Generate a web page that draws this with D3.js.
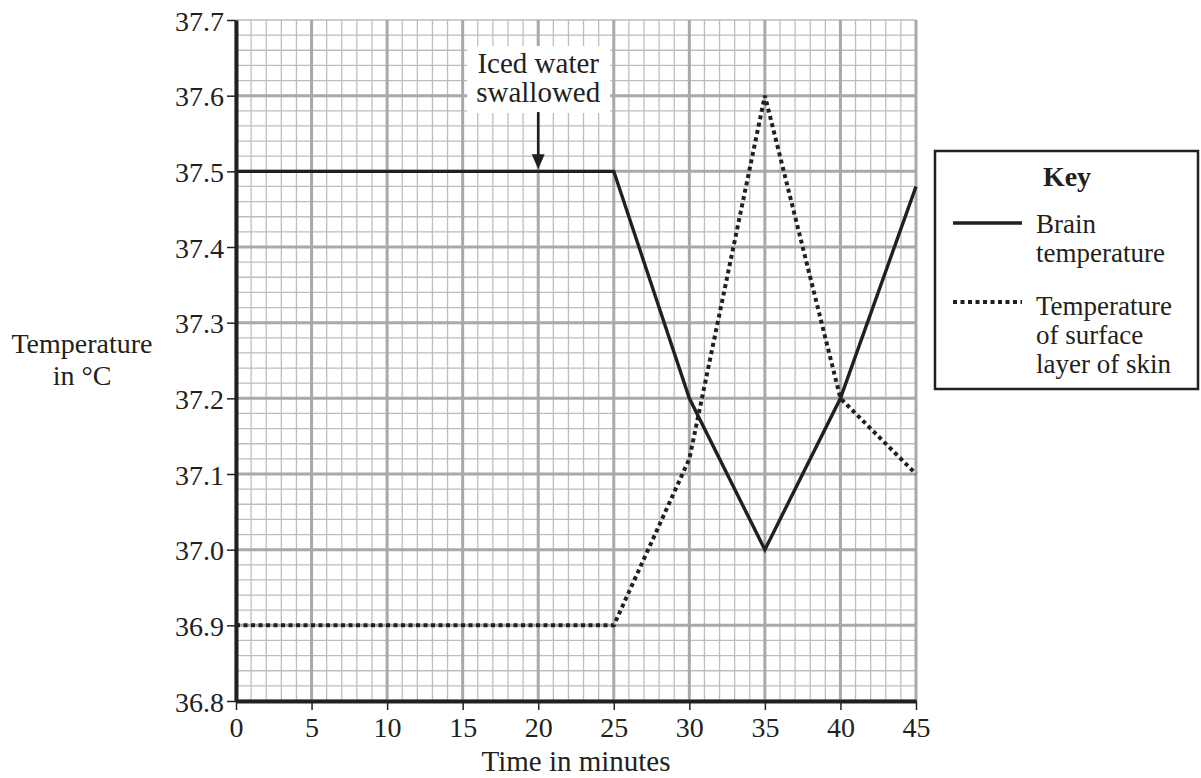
<!DOCTYPE html>
<html>
<head>
<meta charset="utf-8">
<script src="https://cdn.jsdelivr.net/npm/d3@7"></script>
<style>
  body { margin: 0; background: #fff; }
  svg text { font-family: "Liberation Serif", "Times New Roman", serif; fill: #231f20; }
</style>
</head>
<body>
<div id="chart"></div>
<script>
// data
var times = [0, 25, 30, 35, 40, 45]
var brainTemp = [37.5, 37.5, 37.2, 37.0, 37.2, 37.48]
var skinTemp = [36.9, 36.9, 37.12, 37.6, 37.2, 37.1]
var xTicks = [0, 5, 10, 15, 20, 25, 30, 35, 40, 45]
var yTicks = [36.8, 36.9, 37.0, 37.1, 37.2, 37.3, 37.4, 37.5, 37.6, 37.7]
var eventTime = 20, eventTemp = 37.5

;(function () {
    var width = 1201, height = 778
    var left = 236, right = 916, top = 20, bottom = 701

    var svg = d3.select('#chart').append('svg')
        .attr('width', width)
        .attr('height', height)

    var x = d3.scaleLinear().domain([0, 45]).range([left, right])
    var y = d3.scaleLinear().domain([36.8, 37.7]).range([bottom, top])

    var grid = svg.append('g')

    // small squares: 1 minute by 0.02 degrees
    var minorX = d3.range(0, 46)
    var minorY = d3.range(0, 46).map(function (i) { return 36.8 + i * 0.02 })

    grid.selectAll('.vminor').data(minorX).enter().append('line')
        .attr('x1', function (d) { return x(d) }).attr('x2', function (d) { return x(d) })
        .attr('y1', y(36.8)).attr('y2', y(37.7))
        .attr('stroke', '#bdbdbd').attr('stroke-width', 1.3)
    grid.selectAll('.hminor').data(minorY).enter().append('line')
        .attr('y1', function (d) { return y(d) }).attr('y2', function (d) { return y(d) })
        .attr('x1', x(0)).attr('x2', x(45))
        .attr('stroke', '#bdbdbd').attr('stroke-width', 1.3)

    grid.selectAll('.vmajor').data(xTicks).enter().append('line')
        .attr('x1', function (d) { return x(d) }).attr('x2', function (d) { return x(d) })
        .attr('y1', y(36.8)).attr('y2', y(37.7))
        .attr('stroke', '#a9a9a9').attr('stroke-width', 3)
    grid.selectAll('.hmajor').data(yTicks.slice(0, -1)).enter().append('line')
        .attr('y1', function (d) { return y(d) }).attr('y2', function (d) { return y(d) })
        .attr('x1', x(0)).attr('x2', x(45))
        .attr('stroke', '#a9a9a9').attr('stroke-width', 3)

    var line = d3.line()
        .x(function (d) { return x(d[0]) })
        .y(function (d) { return y(d[1]) })

    svg.append('path')
        .datum(d3.zip(times, skinTemp))
        .attr('d', line)
        .attr('fill', 'none')
        .attr('stroke', '#231f20')
        .attr('stroke-width', 4)
        .attr('stroke-dasharray', '4,3.5')

    svg.append('path')
        .datum(d3.zip(times, brainTemp))
        .attr('d', line)
        .attr('fill', 'none')
        .attr('stroke', '#231f20')
        .attr('stroke-width', 3.4)
        .attr('stroke-linejoin', 'miter')

    // axes
    var yAxis = svg.append('g')
        .attr('transform', 'translate(' + left + ',0)')
        .call(d3.axisLeft(y).tickValues(yTicks).tickFormat(d3.format('.1f')).tickSize(9).tickSizeOuter(0).tickPadding(3))
    var xAxis = svg.append('g')
        .attr('transform', 'translate(0,' + bottom + ')')
        .call(d3.axisBottom(x).tickValues(xTicks).tickSize(9).tickSizeOuter(0).tickPadding(5))

    ;[xAxis, yAxis].forEach(function (a) {
        a.select('.domain').attr('stroke', '#231f20').attr('stroke-width', 4)
        a.selectAll('.tick line').attr('stroke', '#231f20').attr('stroke-width', 1.5)
        a.selectAll('.tick text')
            .attr('fill', '#231f20')
            .style('font-family', '"Liberation Serif", serif')
            .style('font-size', '28px')
    })
    yAxis.selectAll('.tick text').attr('dy', '0.36em')
    xAxis.selectAll('.tick text').attr('dy', '0.78em')

    svg.append('text')
        .attr('x', x(22.5)).attr('y', 771)
        .attr('text-anchor', 'middle')
        .style('font-size', '29px')
        .text('Time in minutes')

    var yLab = svg.append('text')
        .attr('text-anchor', 'middle')
        .style('font-size', '28px')
    yLab.append('tspan').attr('x', 82).attr('y', 353).text('Temperature')
    yLab.append('tspan').attr('x', 82).attr('y', 385).text('in °C')

    // annotation
    var ax = x(eventTime)
    svg.append('rect')
        .attr('x', ax - 71).attr('y', 46)
        .attr('width', 143).attr('height', 67)
        .attr('fill', '#fff')
    var note = svg.append('text')
        .attr('text-anchor', 'middle')
        .style('font-size', '29px')
    note.append('tspan').attr('x', ax).attr('y', 73).text('Iced water')
    note.append('tspan').attr('x', ax).attr('y', 102).text('swallowed')
    svg.append('line')
        .attr('x1', ax).attr('x2', ax)
        .attr('y1', 112).attr('y2', y(eventTemp) - 14)
        .attr('stroke', '#231f20').attr('stroke-width', 2.5)
    svg.append('path')
        .attr('d', 'M' + (ax - 6.5) + ',' + (y(eventTemp) - 17) + 'L' + (ax + 6.5) + ',' + (y(eventTemp) - 17) + 'L' + ax + ',' + (y(eventTemp) - 2) + 'Z')
        .attr('fill', '#231f20')

    // key
    var key = svg.append('g')
    key.append('rect')
        .attr('x', 935).attr('y', 151)
        .attr('width', 263).attr('height', 238)
        .attr('fill', '#fff')
        .attr('stroke', '#231f20').attr('stroke-width', 2.5)
    key.append('text')
        .attr('x', 1067).attr('y', 186)
        .attr('text-anchor', 'middle')
        .style('font-size', '28px').style('font-weight', 'bold')
        .text('Key')
    key.append('line')
        .attr('x1', 953).attr('x2', 1022).attr('y1', 223).attr('y2', 223)
        .attr('stroke', '#231f20').attr('stroke-width', 3.4)
    key.append('line')
        .attr('x1', 953).attr('x2', 1022).attr('y1', 302).attr('y2', 302)
        .attr('stroke', '#231f20').attr('stroke-width', 4)
        .attr('stroke-dasharray', '4,3.5')
    var kt = key.append('text').style('font-size', '27px')
    kt.append('tspan').attr('x', 1036).attr('y', 233).text('Brain')
    kt.append('tspan').attr('x', 1036).attr('y', 262).text('temperature')
    kt.append('tspan').attr('x', 1036).attr('y', 315).text('Temperature')
    kt.append('tspan').attr('x', 1036).attr('y', 344).text('of surface')
    kt.append('tspan').attr('x', 1036).attr('y', 373).text('layer of skin')
})()
</script>
</body>
</html>
